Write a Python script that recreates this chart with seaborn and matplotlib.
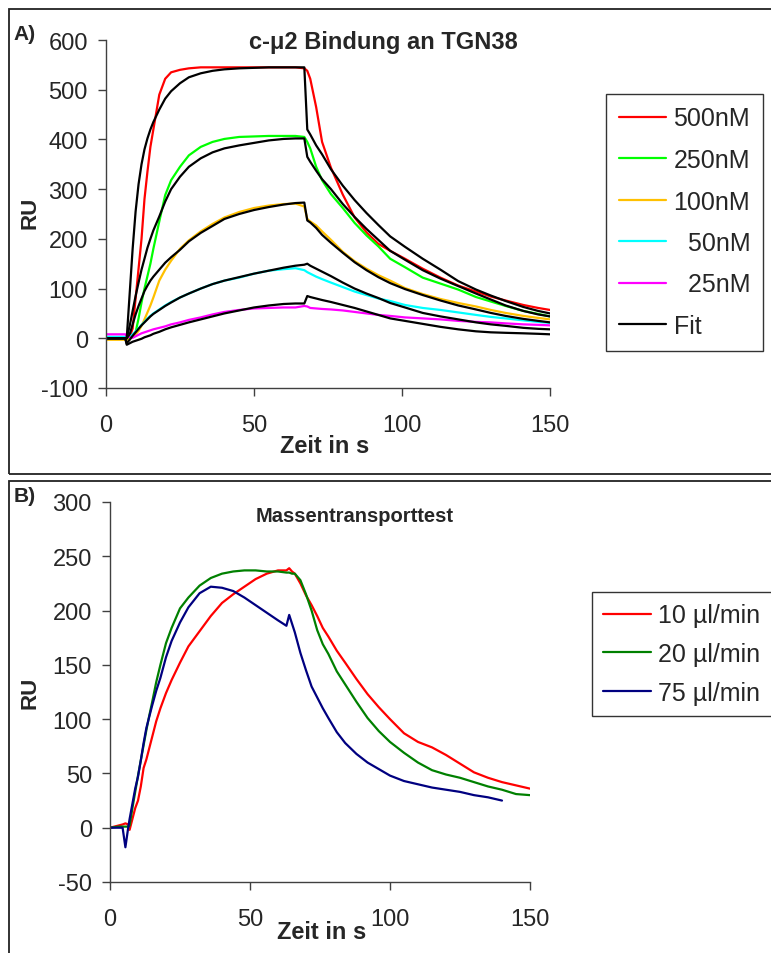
import numpy as np
import pandas as pd
import seaborn as sns
import matplotlib.pyplot as plt
from matplotlib.patches import Rectangle
from matplotlib import font_manager

# ---- Panel A: c-mu2 binding to TGN38 (time in s, RU) ----
tA = [0, 6.5, 7, 8, 9, 10, 11, 12, 13, 14,
      15, 16, 18, 20, 22, 25, 28, 32, 36, 40,
      45, 50, 55, 60, 64, 67, 68, 69, 71, 73,
      76, 80, 84, 88, 92, 96, 101, 107, 113, 119,
      125, 130, 135, 141, 146, 150]

ru_500 = [0, 0, 0, 2, 20, 80, 140, 200, 280, 335,
          385, 420, 490, 522, 535, 540, 543, 545, 545, 545,
          545, 545, 545, 545, 545, 543, 538, 522, 465, 395,
          343, 289, 243, 213, 190, 176, 160, 140, 122, 106,
          94, 84, 76, 67, 61, 57]
ru_250 = [0, 0, 0, 0, 3, 12, 40, 72, 100, 125,
          150, 180, 235, 288, 318, 345, 368, 385, 395, 401,
          405, 406, 407, 407, 407, 405, 395, 382, 345, 318,
          290, 262, 232, 207, 185, 160, 143, 122, 110, 98,
          83, 74, 65, 55, 49, 44]
ru_100 = [-3, -3, -3, -2, 3, 8, 15, 25, 38, 52,
          66, 82, 116, 138, 156, 180, 197, 215, 230, 243,
          254, 262, 267, 270, 271, 265, 240, 235, 227, 215,
          198, 174, 155, 140, 127, 116, 101, 89, 79, 71,
          64, 57, 51, 45, 41, 38]
ru_50 = [3, 3, 2, 4, 8, 14, 20, 27, 33, 40,
         45, 50, 58, 66, 73, 82, 90, 100, 109, 116,
         122, 130, 136, 139, 141, 137, 133, 130, 124, 119,
         112, 103, 94, 87, 80, 75, 67, 61, 57, 52,
         47, 43, 40, 36, 33, 31]
ru_25 = [8, 8, 4, 2, 1, 4, 7, 10, 12, 14,
         16, 18, 21, 24, 28, 32, 37, 42, 48, 53,
         57, 60, 61, 62, 62, 65, 64, 61, 60, 59,
         58, 56, 53, 50, 47, 45, 42, 40, 38, 35,
         33, 32, 30, 28, 27, 26]

fit_500 = [0, 0, 0, 90, 180, 255, 310, 350, 380, 402,
           420, 435, 460, 482, 497, 513, 525, 533, 538, 541,
           543, 544, 545, 545, 545, 545, 420, 410, 388, 370,
           340, 307, 278, 252, 228, 205, 184, 160, 138, 115,
           98, 86, 75, 63, 55, 50]
fit_250 = [0, 0, 0, 25, 55, 85, 112, 138, 160, 182,
           200, 217, 245, 275, 300, 325, 345, 362, 374, 382,
           388, 393, 398, 401, 402, 402, 365, 355, 337, 320,
           300, 270, 244, 220, 198, 176, 158, 137, 120, 105,
           90, 78, 66, 55, 48, 44]
fit_100 = [0, 0, 0, 8, 28, 48, 65, 80, 95, 106,
           116, 124, 138, 152, 163, 178, 195, 212, 226, 240,
           250, 258, 264, 269, 272, 273, 237, 233, 222, 208,
           192, 172, 153, 137, 123, 111, 99, 87, 76, 66,
           58, 51, 45, 39, 35, 32]
fit_50 = [0, 0, -10, -3, 5, 12, 19, 26, 32, 38,
          44, 49, 57, 65, 72, 82, 90, 100, 109, 116,
          123, 130, 136, 142, 146, 148, 150, 146, 140, 134,
          125, 112, 100, 90, 81, 71, 62, 51, 44, 38,
          32, 28, 25, 21, 19, 18]
fit_25 = [0, 0, -13, -10, -7, -5, -3, -1, 2, 4,
          6, 9, 13, 18, 22, 27, 32, 38, 44, 50,
          56, 62, 66, 69, 70, 70, 85, 83, 80, 77,
          73, 67, 61, 54, 47, 40, 35, 29, 23, 18,
          14, 12, 11, 10, 9, 8]

conc_labels = ["500nM", "250nM", "100nM", "  50nM", "  25nM"]
conc_colors = ["#FF0000", "#00FF00", "#FFC000", "#00FFFF", "#FF00FF"]

# ---- Panel B: mass transport test ----
tB = [0, 3, 4.5, 5.5, 6.5, 7, 8, 9, 10, 11,
      12, 13, 14, 15, 16.5, 18, 20, 22, 25, 28,
      32, 36, 40, 44, 48, 52, 56, 60, 63, 64,
      65, 66, 68, 70, 72, 74, 76, 78, 81, 84,
      88, 92, 96, 100, 105, 110, 115, 120, 125, 130,
      135, 140, 145, 150]

flow_10 = [0, 2, 3, 4, 3, -2, 8, 18, 25, 38,
           55, 63, 73, 83, 98, 110, 124, 136, 152, 167,
           181, 195, 207, 215, 222, 229, 234, 237, 237, 239,
           236, 234, 225, 214, 205, 195, 184, 176, 163, 152,
           137, 123, 111, 100, 87, 79, 74, 67, 59, 51,
           46, 42, 39, 36]
flow_20 = [0, 1, 1, 1, 1, 2, 18, 33, 48, 62,
           76, 90, 103, 115, 134, 150, 170, 184, 202, 212,
           223, 230, 234, 236, 237, 237, 236, 236, 235, 235,
           234, 234, 228, 215, 200, 182, 169, 160, 144, 132,
           116, 101, 89, 79, 69, 60, 53, 49, 46, 42,
           38, 35, 31, 30]
flow_75 = [0, 0, 0, -18, 0, 8, 22, 36, 47, 62,
           78, 92, 102, 112, 126, 138, 157, 172, 189, 203,
           216, 222, 221, 218, 212, 205, 198, 191, 186, 196,
           188, 180, 161, 145, 130, 120, 110, 101, 88, 78,
           68, 60, 54, 48, 43, 40, 37, 35, 33, 30,
           28, 25, np.nan, np.nan]

flow_labels = ["10 µl/min", "20 µl/min", "75 µl/min"]
flow_colors = ["#FF0000", "#008000", "#000080"]

# ---- style ----
sns.set_style("ticks")
plt.rcParams['font.family'] = ['Liberation Sans', 'DejaVu Sans']
plt.rcParams['axes.unicode_minus'] = False
names = {f.name for f in font_manager.fontManager.ttflist}
narrow = 'Liberation Sans Narrow' if 'Liberation Sans Narrow' in names else 'Liberation Sans'

W, H = 771, 954
def fx(px):
    return px / W
def fy(py):
    return 1 - py / H

fig = plt.figure(figsize=(W / 100, H / 100), dpi=100)
fig.patch.set_facecolor("white")

axA = fig.add_axes([fx(106), fy(389), 444 / W, 348 / H])
axB = fig.add_axes([fx(110), fy(883), 420 / W, 380 / H])

# panel frames
fig.add_artist(Rectangle((fx(9), fy(475)), 1.0, 465 / H, transform=fig.transFigure,
                         fill=False, ec="#222222", lw=1.3))
fig.add_artist(Rectangle((fx(9), -0.1), 1.0, fy(482) + 0.1, transform=fig.transFigure,
                         fill=False, ec="#222222", lw=1.3))

LW = 1.6
handles = []
for vals, lab, col in zip([ru_500, ru_250, ru_100, ru_50, ru_25], conc_labels, conc_colors):
    sns.lineplot(x=tA, y=vals, ax=axA, color=col, lw=LW, estimator=None, sort=False)
    handles.append(plt.Line2D([], [], color=col, lw=LW, label=lab))
for vals in [fit_500, fit_250, fit_100, fit_50, fit_25]:
    sns.lineplot(x=tA, y=vals, ax=axA, color="black", lw=LW, estimator=None, sort=False)
handles.append(plt.Line2D([], [], color="black", lw=LW, label="Fit"))

handlesB = []
for vals, lab, col in zip([flow_10, flow_20, flow_75], flow_labels, flow_colors):
    sns.lineplot(x=tB, y=vals, ax=axB, color=col, lw=LW, estimator=None, sort=False)
    handlesB.append(plt.Line2D([], [], color=col, lw=LW, label=lab))

axA.set_xlim(0, 150)
axA.set_ylim(-100, 600)
axA.set_yticks(range(-100, 601, 100))
axB.set_xlim(0, 150)
axB.set_ylim(-50, 300)
axB.set_yticks(range(-50, 301, 50))

for ax in (axA, axB):
    ax.set_xticks([0, 50, 100, 150])
    sns.despine(ax=ax)
    for s in ("left", "bottom"):
        ax.spines[s].set_color("#404040")
        ax.spines[s].set_linewidth(1.0)
    ax.tick_params(axis="both", direction="out", length=6, width=1, color="#404040")
    ax.tick_params(axis="y", labelsize=17, pad=7)
    ax.tick_params(axis="x", labelsize=17, pad=13)
    for lbl in ax.get_xticklabels():
        lbl.set_family(narrow)
    ax.set_xlabel("Zeit in s", fontsize=17, fontweight="bold", family=narrow)
    ax.xaxis.label.set_va("center")
    ax.set_ylabel("RU", fontsize=16, fontweight="bold")
    ax.yaxis.label.set_va("center")

axA.xaxis.set_label_coords((325 - 106) / 444, (389 - 447) / 348)
axA.yaxis.set_label_coords((30 - 106) / 444, (389 - 213) / 348)
axB.xaxis.set_label_coords((322 - 110) / 420, (883 - 933) / 380)
axB.yaxis.set_label_coords((30 - 110) / 420, (883 - 693) / 380)

legA = axA.legend(handles=handles, loc="upper left", bbox_to_anchor=(fx(606), fy(95)),
                  bbox_transform=fig.transFigure, borderaxespad=0, fontsize=18,
                  handlelength=1.9, handletextpad=0.3, labelspacing=0.7,
                  borderpad=0.5, fancybox=False, framealpha=1)
legA.get_frame().set_edgecolor("#333333")
legA.get_frame().set_linewidth(1.0)

legB = axB.legend(handles=handlesB, loc="upper left", bbox_to_anchor=(fx(592), fy(593)),
                  bbox_transform=fig.transFigure, borderaxespad=0, fontsize=18,
                  handlelength=1.9, handletextpad=0.3, labelspacing=0.59,
                  borderpad=0.45, fancybox=False, framealpha=1)
legB.get_frame().set_edgecolor("#333333")
legB.get_frame().set_linewidth(1.0)

fig.text(fx(383), fy(43), "c-μ2 Bindung an TGN38", ha="center", va="center",
         fontsize=17, fontweight="bold")
fig.text(fx(355), fy(516), "Massentransporttest", ha="center", va="center",
         fontsize=14.5, fontweight="bold", family=narrow)
fig.text(fx(25), fy(35), "A)", ha="center", va="center", fontsize=15, fontweight="bold")
fig.text(fx(25), fy(497), "B)", ha="center", va="center", fontsize=15, fontweight="bold")

fig.savefig("out.png", dpi=100, facecolor="white")
